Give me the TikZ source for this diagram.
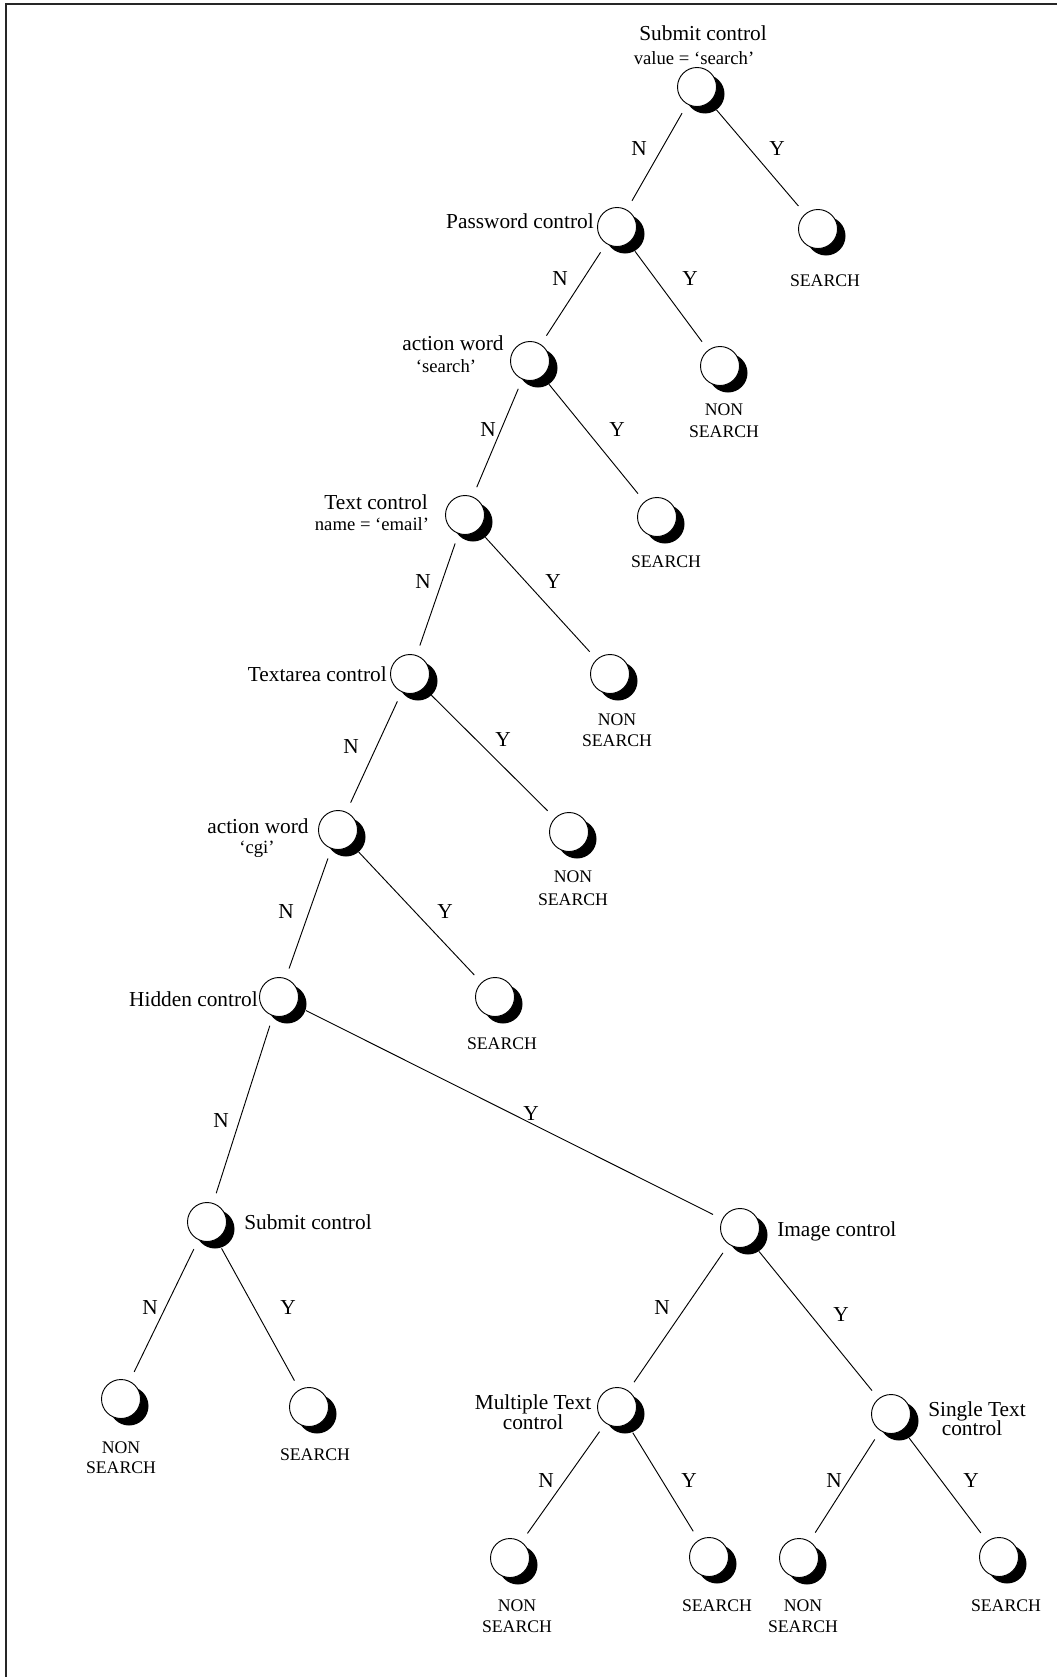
\documentclass[tikz,border=0pt]{standalone}
\usepackage{fontspec}
\setmainfont{Liberation Serif}
\usetikzlibrary{shadows}

\tikzset{
  dnode/.style={circle, draw, fill=white, line width=0.7pt,
    minimum size=29.25pt, inner sep=0pt, outer sep=8pt,
    drop shadow={shadow xshift=6pt, shadow yshift=-5.25pt, opacity=1, fill=black}},
  txtbase/.style={inner sep=0pt, text height=0.66em, text depth=0pt, yshift=-2pt},
  mainlbl/.style={txtbase, font=\fontsize{16}{19}\selectfont},
  smalllbl/.style={txtbase, font=\fontsize{14}{16}\selectfont},
  leaflbl/.style={txtbase, font=\fontsize{13.3}{16}\selectfont},
  ynlbl/.style={txtbase, font=\fontsize{16}{19}\selectfont},
  branch/.style={line width=0.7pt},
  frameline/.style={line width=1.5pt, draw=black!85}
}

\begin{document}
\begin{tikzpicture}[x=0.75pt, y=-0.75pt]
\useasboundingbox (0,0) rectangle (1057,1677);
\fill[white] (0,0) rectangle (1057,1677);
\draw[frameline] (6,1677) -- (6,4.5) -- (1057,4.5);

% decision nodes and leaves
\node[dnode] (root) at (697,87) {};
\node[dnode] (pw)   at (617,227) {};
\node[dnode] (s1)   at (818,229) {};
\node[dnode] (aw1)  at (530,361) {};
\node[dnode] (ns1)  at (720,366) {};
\node[dnode] (tc)   at (465,515) {};
\node[dnode] (s2)   at (657,517) {};
\node[dnode] (ta)   at (410,674) {};
\node[dnode] (ns2)  at (610,674) {};
\node[dnode] (aw2)  at (338,830) {};
\node[dnode] (ns3)  at (569,832) {};
\node[dnode] (hid)  at (279,997) {};
\node[dnode] (s3)   at (495,997) {};
\node[dnode] (sub)  at (207,1222) {};
\node[dnode] (img)  at (740,1228) {};
\node[dnode] (ns4)  at (121,1399) {};
\node[dnode] (s4)   at (309,1407) {};
\node[dnode] (mt)   at (617,1407) {};
\node[dnode] (st)   at (891,1414) {};
\node[dnode] (ns5)  at (510,1558) {};
\node[dnode] (s5)   at (709,1557) {};
\node[dnode] (ns6)  at (799,1558) {};
\node[dnode] (s6)   at (999,1557) {};

% branches
\draw[branch] (root) -- (pw);   \draw[branch] (root) -- (s1);
\draw[branch] (pw) -- (aw1);    \draw[branch] (pw) -- (ns1);
\draw[branch] (aw1) -- (tc);    \draw[branch] (aw1) -- (s2);
\draw[branch] (tc) -- (ta);     \draw[branch] (tc) -- (ns2);
\draw[branch] (ta) -- (aw2);    \draw[branch] (ta) -- (ns3);
\draw[branch] (aw2) -- (hid);   \draw[branch] (aw2) -- (s3);
\draw[branch] (hid) -- (sub);   \draw[branch] (hid) -- (img);
\draw[branch] (sub) -- (ns4);   \draw[branch] (sub) -- (s4);
\draw[branch] (img) -- (mt);    \draw[branch] (img) -- (st);
\draw[branch] (mt) -- (ns5);    \draw[branch] (mt) -- (s5);
\draw[branch] (st) -- (ns6);    \draw[branch] (st) -- (s6);

% branch labels
\node[ynlbl] (rootN) at (639,148) {N};  \node[ynlbl] (rootY) at (777,148) {Y};
\node[ynlbl] (pwN)   at (560,278) {N};  \node[ynlbl] (pwY)   at (690,278) {Y};
\node[ynlbl] (aw1N)  at (488,429) {N};  \node[ynlbl] (aw1Y)  at (617,429) {Y};
\node[ynlbl] (tcN)   at (423,581) {N};  \node[ynlbl] (tcY)   at (553,581) {Y};
\node[ynlbl] (taN)   at (351,746) {N};  \node[ynlbl] (taY)   at (503,739) {Y};
\node[ynlbl] (aw2N)  at (286,911) {N};  \node[ynlbl] (aw2Y)  at (445,911) {Y};
\node[ynlbl] (hidN)  at (221,1120) {N}; \node[ynlbl] (hidY)  at (531,1113) {Y};
\node[ynlbl] (subN)  at (150,1307) {N}; \node[ynlbl] (subY)  at (288,1307) {Y};
\node[ynlbl] (imgN)  at (662,1307) {N}; \node[ynlbl] (imgY)  at (841,1314) {Y};
\node[ynlbl] (mtN)   at (546,1480) {N}; \node[ynlbl] (mtY)   at (689,1480) {Y};
\node[ynlbl] (stN)   at (834,1480) {N}; \node[ynlbl] (stY)   at (971,1480) {Y};

% decision labels
\node[mainlbl]  (rootT1) at (703,33) {Submit control};
\node[smalllbl] (rootT2) at (694,57) {value = ‘search’};
\node[mainlbl, anchor=east] (pwT) at (594,221) {Password control};
\node[mainlbl]  (aw1T1) at (453,343) {action word};
\node[smalllbl] (aw1T2) at (446,365) {‘search’};
\node[mainlbl]  (tcT1) at (376,502) {Text control};
\node[smalllbl] (tcT2) at (372,523) {name = ‘email’};
\node[mainlbl, anchor=east] (taT) at (387,674) {Textarea control};
\node[mainlbl]  (aw2T1) at (258,826) {action word};
\node[smalllbl] (aw2T2) at (257,846) {‘cgi’};
\node[mainlbl, anchor=east] (hidT) at (258,999) {Hidden control};
\node[mainlbl, anchor=west] (subT) at (244,1222) {Submit control};
\node[mainlbl, anchor=west] (imgT) at (777,1229) {Image control};
\node[mainlbl]  (mtT1) at (533,1402) {Multiple Text};
\node[mainlbl]  (mtT2) at (533,1422) {control};
\node[mainlbl]  (stT1) at (977,1409) {Single Text};
\node[mainlbl]  (stT2) at (972,1428) {control};

% outcome labels
\node[leaflbl] (s1L)  at (825,279) {SEARCH};
\node[leaflbl] (ns1L1) at (724,408) {NON};
\node[leaflbl] (ns1L2) at (724,430) {SEARCH};
\node[leaflbl] (s2L)  at (666,560) {SEARCH};
\node[leaflbl] (ns2L1) at (617,718) {NON};
\node[leaflbl] (ns2L2) at (617,739) {SEARCH};
\node[leaflbl] (ns3L1) at (573,875) {NON};
\node[leaflbl] (ns3L2) at (573,898) {SEARCH};
\node[leaflbl] (s3L)  at (502,1042) {SEARCH};
\node[leaflbl] (ns4L1) at (121,1446) {NON};
\node[leaflbl] (ns4L2) at (121,1466) {SEARCH};
\node[leaflbl] (s4L)  at (315,1453) {SEARCH};
\node[leaflbl] (ns5L1) at (517,1604) {NON};
\node[leaflbl] (ns5L2) at (517,1625) {SEARCH};
\node[leaflbl] (s5L)  at (717,1604) {SEARCH};
\node[leaflbl] (ns6L1) at (803,1604) {NON};
\node[leaflbl] (ns6L2) at (803,1625) {SEARCH};
\node[leaflbl] (s6L)  at (1006,1604) {SEARCH};
\end{tikzpicture}
\end{document}
